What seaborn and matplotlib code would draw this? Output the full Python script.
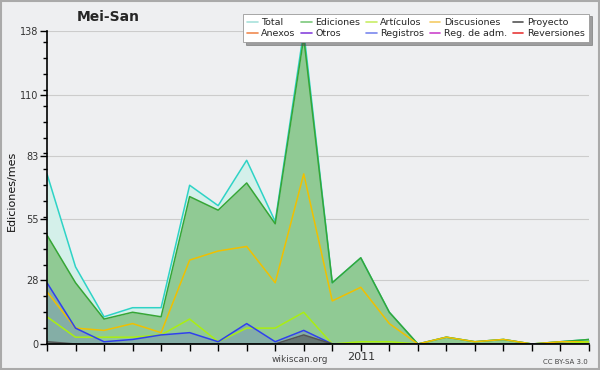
import numpy as np
import pandas as pd
import seaborn as sns
import matplotlib.pyplot as plt
from matplotlib.lines import Line2D
from matplotlib.ticker import FixedLocator, AutoMinorLocator

# monthly values, Feb 2010 .. Sep 2011
months = pd.period_range("2010-02", "2011-09", freq="M").strftime("%Y-%m").tolist()
total = [75, 34, 12, 16, 16, 70, 61, 81, 54, 138, 27, 38, 14, 0, 3, 1, 2, 0, 1, 2]
ediciones = [48, 27, 11, 14, 12, 65, 59, 71, 53, 135, 27, 38, 14, 0, 3, 1, 2, 0, 1, 2]
discusiones = [23, 7, 6, 9, 5, 37, 41, 43, 27, 75, 19, 25, 9, 0, 3, 1, 2, 0, 1, 1]
articulos = [12, 3, 3, 3, 4, 11, 1, 7, 7, 14, 0, 1, 1, 0, 0, 0, 0, 0, 0, 1]
registros = [27, 7, 1, 2, 4, 5, 1, 9, 1, 6, 0, 0, 0, 0, 0, 0, 0, 0, 0, 0]
proyecto = [1, 0, 0, 0, 0, 0, 0, 0, 0, 4, 0, 0, 0, 0, 0, 0, 0, 0, 0, 0]

y_ticks = [0, 28, 55, 83, 110, 138]
x_labels = ["" for m in months]
x_labels[months.index("2011-01")] = "2011"

legend_names = ["Total", "Anexos", "Ediciones", "Otros", "Artículos", "Registros",
                "Discusiones", "Reg. de adm.", "Proyecto", "Reversiones"]
legend_colors = ["#a8e2dc", "#f08a50", "#7cc87c", "#8844dd", "#c8ee66", "#7a88ee",
                 "#f5cc66", "#cc44cc", "#555555", "#e83a3a"]

bg = "#eeeff1"
sns.set_theme(style="white")
plt.rcParams["font.family"] = ["DejaVu Sans"]

fig = plt.figure(figsize=(6, 3.7), dpi=100, facecolor=bg)
ax = fig.add_axes([47/600, 26/370, 542/600, 313/370])
ax.set_facecolor(bg)

x = np.arange(len(months))
df = pd.DataFrame({"x": x, "Total": total, "Ediciones": ediciones, "Discusiones": discusiones,
                   "Artículos": articulos, "Registros": registros, "Proyecto": proyecto})

ax.fill_between(df["x"], df["Total"], color="#d4f0ea", lw=0)
ax.fill_between(df["x"], df["Ediciones"], color="#90ca94", lw=0)
ax.fill_between(df["x"], df["Registros"], color="#6a70d0", alpha=0.3, lw=0)
ax.fill_between(df["x"], df["Proyecto"], color="#555555", alpha=0.6, lw=0)

series = [("Total", "#2ed3c6"), ("Ediciones", "#36a636"), ("Discusiones", "#f0c000"),
          ("Artículos", "#aaee11"), ("Registros", "#3040ee"), ("Proyecto", "#555555")]
for name, col in series:
    sns.lineplot(data=df, x="x", y=name, ax=ax, color=col, lw=1.1)

ax.set_xlim(0, len(months) - 1)
ax.set_ylim(0, 138)
ax.set_xticks(x)
ax.set_xticklabels(x_labels, fontsize=8, color="#333333")
ax.yaxis.set_major_locator(FixedLocator(y_ticks))
ax.set_yticklabels([str(v) for v in y_ticks], fontsize=7, color="#333333")
ax.yaxis.set_minor_locator(AutoMinorLocator(4))
ax.tick_params(axis="both", which="major", direction="out", length=5, width=1, color="black", pad=1,
               left=True, bottom=True)
ax.tick_params(axis="y", which="minor", direction="out", length=3, width=1, color="black", left=True)
ax.grid(axis="y", which="major", color="#cccccc", lw=0.8)
ax.set_axisbelow(True)
for s in ["top", "right"]:
    ax.spines[s].set_visible(False)
for s in ["left", "bottom"]:
    ax.spines[s].set_color("black")
    ax.spines[s].set_linewidth(1.2)
ax.set_xlabel("")
ax.set_ylabel("Ediciones/mes", fontsize=8, color="#111111")
ax.yaxis.set_label_coords(-0.055, 0.49)

fig.text(108/600, 1 - 17/370, "Mei-San", fontsize=10, fontweight="bold", ha="center", va="center")
fig.text(300/600, 1 - 360/370, "wikiscan.org", fontsize=6.5, color="#444444", ha="center", va="center")
fig.text(588/600, 1 - 362/370, "CC BY-SA 3.0", fontsize=5, color="#444444", ha="right", va="center")

handles = [Line2D([0], [0], color=c, lw=1.2) for c in legend_colors]
leg = fig.legend(handles, legend_names, ncol=5, loc="upper right", bbox_to_anchor=(594/600, 1 - 9/370),
                 fontsize=6.8, frameon=True, fancybox=False, shadow=True, handlelength=1.1,
                 handletextpad=0.4, columnspacing=0.6, labelspacing=0.2, borderpad=0.45)
leg.get_frame().set_facecolor("white")
leg.get_frame().set_edgecolor("#999999")
leg.get_frame().set_linewidth(0.6)

fig.patches.append(plt.Rectangle((0.002, 0.003), 0.996, 0.994, transform=fig.transFigure,
                                 fill=False, edgecolor="#aaaaaa", lw=1.5))

fig.savefig("out.png", dpi=100, facecolor=bg)
